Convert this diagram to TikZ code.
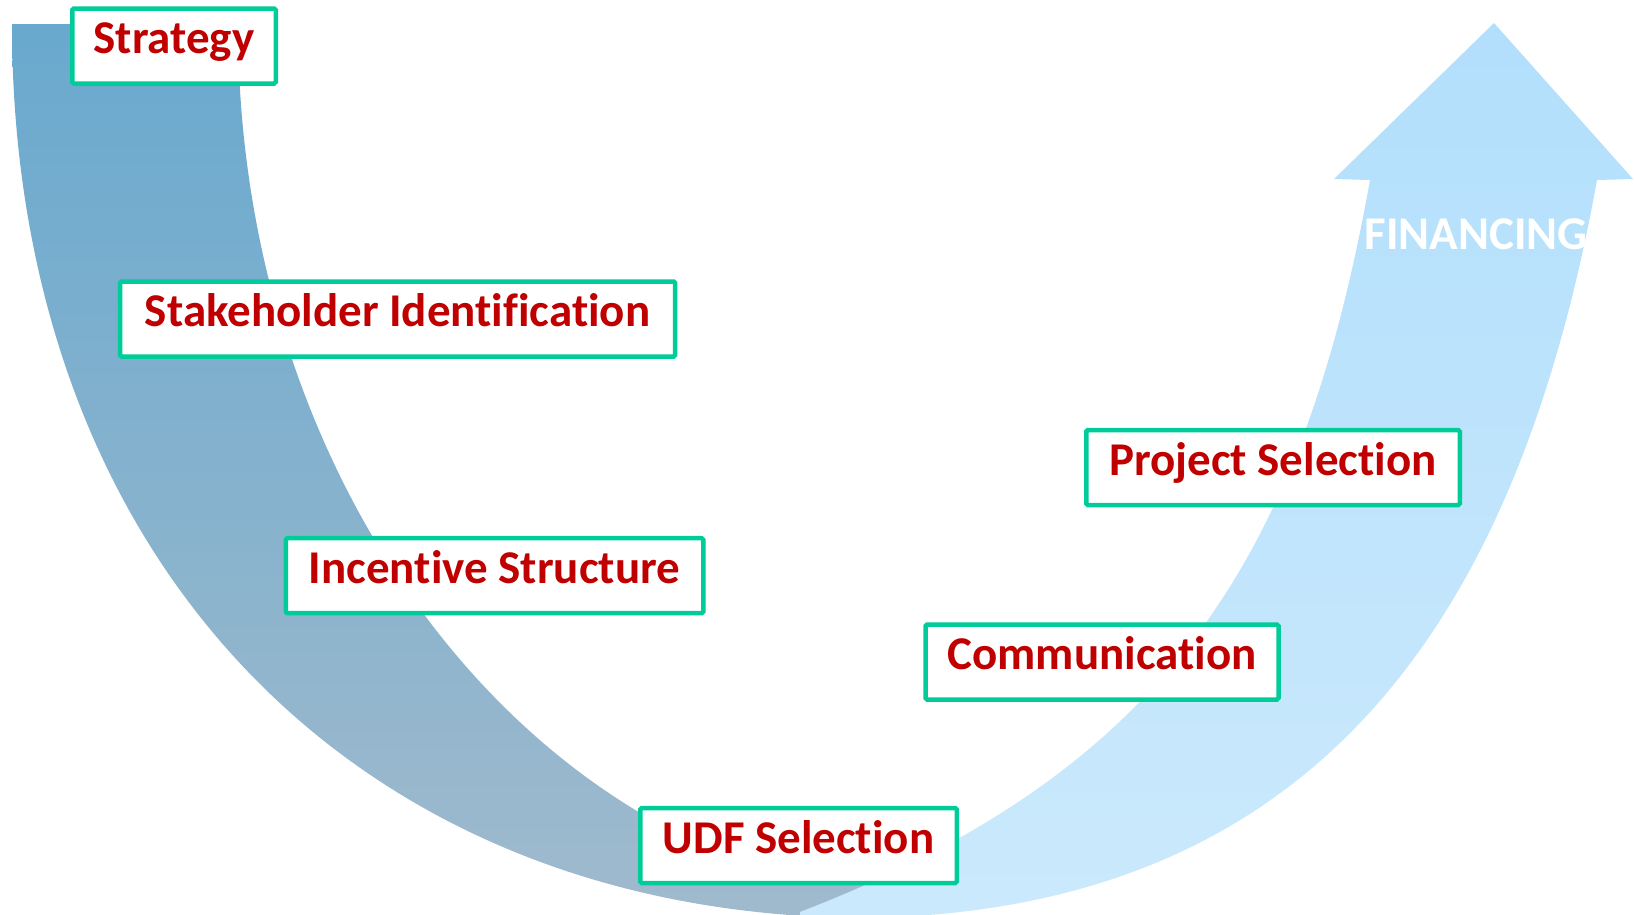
\documentclass[tikz,border=0pt]{standalone}
\usepackage{fontspec}
\setmainfont{Carlito}[Ligatures={NoCommon}]
\definecolor{darktop}{RGB}{105,169,206}
\definecolor{darkbot}{RGB}{160,186,205}
\definecolor{lighttop}{RGB}{178,223,252}
\definecolor{lightbot}{RGB}{203,233,252}
\definecolor{boxgreen}{RGB}{0,204,153}
\definecolor{txtred}{RGB}{192,0,0}
\tikzset{
  stagebox/.style={draw=boxgreen, line width=4.5pt, fill=white, rounded corners=1.5pt,
    inner sep=0pt, minimum height=75pt, text=txtred,
    font=\fontsize{47}{50}\selectfont\bfseries, text height=35pt, text depth=20pt},
  flowtext/.style={text=white, font=\fontsize{47}{50}\selectfont\bfseries, inner sep=0pt}
}
\begin{document}
\begin{tikzpicture}[x=1pt,y=-1pt]
\useasboundingbox (0,0) rectangle (1634,914);
\clip (0,0) rectangle (1634,914);
% dark left band
\shade[top color=darktop, bottom color=darkbot]
  (12,24) -- (238,24) .. controls (238,435.4) and (468.5,780.3) .. (779,874.6)
  -- (965,855) -- (870,918) .. controls (355,918) and (12,559) .. (12,24) -- cycle;
% light right arrow
\shade[top color=lighttop, bottom color=lightbot]
  (1370,180) -- (1334,179) -- (1494,23) -- (1633,179) -- (1597,180)
  .. controls (1521,600) and (1330,918) .. (850,918) -- (800,918) -- (800,912)
  .. controls (1165,771) and (1302,560) .. (1370,180) -- cycle;
\node[flowtext, anchor=base] (fin) at (1476,249) {FINANCING};
% boxes
\node[stagebox, minimum width=203.5pt] (strategy) at (174,46) {Strategy};
\node[stagebox, minimum width=555pt] (stake) at (397.6,319) {Stakeholder Identification};
\node[stagebox, minimum width=417.5pt] (incent) at (494.5,575.7) {Incentive Structure};
\node[stagebox, minimum width=373.5pt] (project) at (1273,467.5) {Project Selection};
\node[stagebox, minimum width=353pt] (comm) at (1102,662) {Communication};
\node[stagebox, minimum width=316.5pt] (udf) at (798.5,845.5) {UDF Selection};
\end{tikzpicture}
\end{document}
